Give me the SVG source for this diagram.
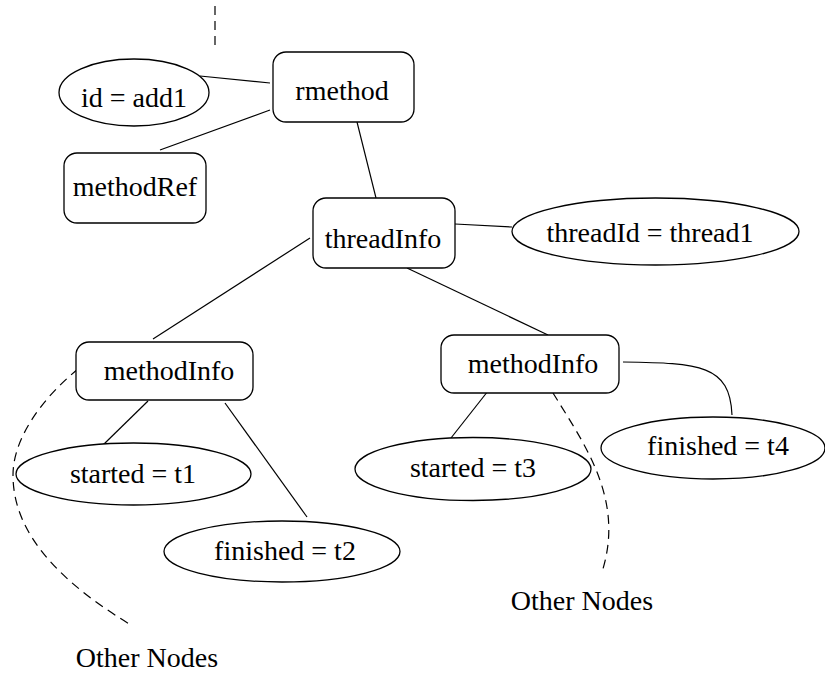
<svg xmlns="http://www.w3.org/2000/svg" width="825" height="673" viewBox="0 0 825 673">
<style>
.n{fill:#fff;stroke:#000;stroke-width:1.3}
.t{font-size:28px;fill:#000;text-anchor:middle}
.c{fill:none;stroke:#000;stroke-width:1.2}
.d{fill:none;stroke:#000;stroke-width:1.2;stroke-dasharray:9 6}
</style>
<rect width="825" height="673" fill="#fff"/>
<g id="connectors">
<path class="d" d="M215,6 L215,50"/>
<path class="c" d="M200,76 L270,83"/>
<path class="c" d="M270,110 L160,150"/>
<path class="c" d="M357,122 L376,198"/>
<path class="c" d="M455,224 L512,227"/>
<path class="c" d="M310,238 L153,339"/>
<path class="c" d="M407,268 L548,335"/>
<path class="c" d="M148,401 L103,445"/>
<path class="c" d="M225,403 L307,517"/>
<path class="c" d="M488,391 L451,438"/>
<path class="c" d="M623,362 C700,363 730,365 732,415"/>
<path class="d" d="M78,369 C40,400 13,440 13,475 C13,520 40,570 131,625"/>
<path class="d" d="M553,393 C585,445 625,500 602,572"/>
</g>
<g font-family="Liberation Serif, Times New Roman, DejaVu Serif, serif">
<g id="rmethod"><rect class="n" x="273" y="52" width="141" height="70" rx="13"/><text class="t" x="342" y="100">rmethod</text></g>
<g id="id-add1"><ellipse class="n" cx="134" cy="92.5" rx="75" ry="33.5"/><text class="t" x="134" y="107">id = add1</text></g>
<g id="methodRef"><rect class="n" x="64" y="153" width="142" height="70" rx="13"/><text class="t" x="135" y="196">methodRef</text></g>
<g id="threadInfo"><rect class="n" x="313" y="198" width="142" height="70" rx="13"/><text class="t" x="383" y="248">threadInfo</text></g>
<g id="threadId"><ellipse class="n" cx="655.5" cy="231.5" rx="143.5" ry="33.5"/><text class="t" x="650" y="242">threadId = thread1</text></g>
<g id="methodInfo1"><rect class="n" x="76" y="342" width="177" height="58" rx="13"/><text class="t" x="169" y="380">methodInfo</text></g>
<g id="methodInfo2"><rect class="n" x="441" y="335" width="178" height="58" rx="13"/><text class="t" x="533" y="373">methodInfo</text></g>
<g id="started-t1"><ellipse class="n" cx="133.5" cy="474" rx="117.5" ry="31"/><text class="t" x="133" y="483">started = t1</text></g>
<g id="finished-t2"><ellipse class="n" cx="282" cy="551.5" rx="118" ry="30.5"/><text class="t" x="285" y="560">finished = t2</text></g>
<g id="started-t3"><ellipse class="n" cx="473" cy="469" rx="118" ry="31.5"/><text class="t" x="473" y="477">started = t3</text></g>
<g id="finished-t4"><ellipse class="n" cx="713" cy="448" rx="112" ry="31"/><text class="t" x="718" y="455">finished = t4</text></g>
<g id="other1"><text class="t" x="147" y="667">Other Nodes</text></g>
<g id="other2"><text class="t" x="582" y="610">Other Nodes</text></g>
</g>
</svg>
